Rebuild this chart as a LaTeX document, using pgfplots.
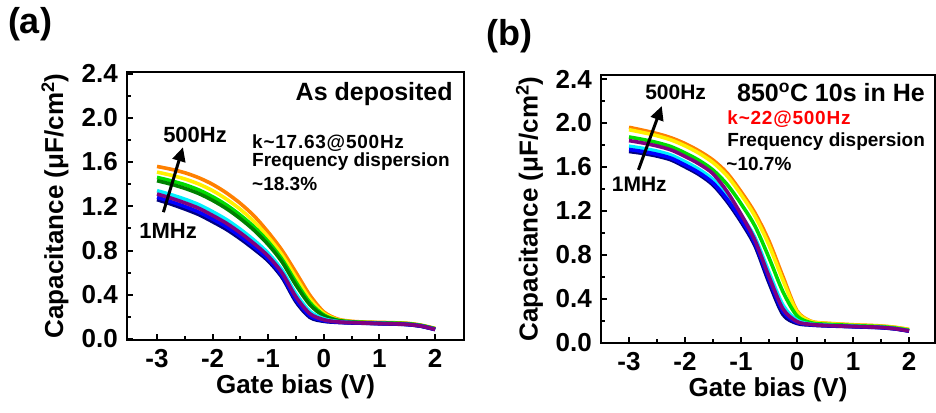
\documentclass[border=0pt]{standalone}
\usepackage{pgfplots}
\pgfplotsset{compat=1.18}
\usepackage{pgfplotstable}
\usetikzlibrary{arrows.meta}
\usepackage{fontspec}
\setmainfont{Liberation Sans}

\definecolor{cOr}{RGB}{255,128,0}
\definecolor{cYe}{RGB}{255,240,0}
\definecolor{cLi}{RGB}{0,220,0}
\definecolor{cGr}{RGB}{0,128,0}
\definecolor{cCy}{RGB}{0,240,255}
\definecolor{cBl}{RGB}{0,0,255}
\definecolor{cNv}{RGB}{0,0,128}
\definecolor{cPu}{RGB}{128,0,128}

% panel (a): as deposited
\pgfplotstableread{
x     or    ye    li    gr    cy    bl    nv    pu
-3    1.560 1.509 1.461 1.431 1.341 1.281 1.260 1.311
-2.75 1.535 1.481 1.431 1.400 1.305 1.242 1.220 1.274
-2.5  1.503 1.447 1.395 1.362 1.264 1.198 1.175 1.231
-2.25 1.458 1.401 1.348 1.315 1.215 1.148 1.125 1.182
-2    1.398 1.341 1.286 1.253 1.151 1.084 1.060 1.117
-1.75 1.320 1.264 1.211 1.178 1.079 1.013 0.990 1.046
-1.5  1.225 1.171 1.119 1.087 0.991 0.927 0.905 0.959
-1.25 1.110 1.059 1.011 0.981 0.891 0.831 0.810 0.861
-1    0.965 0.921 0.879 0.853 0.775 0.723 0.705 0.749
-0.75 0.800 0.758 0.719 0.695 0.621 0.572 0.555 0.597
-0.5  0.600 0.555 0.513 0.486 0.407 0.354 0.335 0.380
-0.25 0.395 0.361 0.329 0.309 0.249 0.209 0.195 0.229
0     0.245 0.231 0.217 0.208 0.183 0.166 0.160 0.174
0.25  0.180 0.175 0.170 0.167 0.158 0.152 0.150 0.155
0.5   0.160 0.157 0.155 0.154 0.149 0.146 0.145 0.148
0.75  0.153 0.151 0.149 0.148 0.145 0.143 0.142 0.144
1     0.150 0.148 0.146 0.145 0.141 0.139 0.138 0.140
1.25  0.147 0.145 0.143 0.142 0.138 0.136 0.135 0.137
1.5   0.142 0.140 0.138 0.137 0.133 0.131 0.130 0.132
1.75  0.125 0.123 0.122 0.121 0.118 0.116 0.115 0.117
2     0.095 0.093 0.092 0.091 0.088 0.086 0.085 0.087
}\dataA

% panel (b): 850C 10s in He
\pgfplotstableread{
x     or    ye    gr    cy    bl    nv    pu
-3    1.960 1.938 1.872 1.788 1.758 1.740 1.839
-2.75 1.933 1.912 1.849 1.768 1.739 1.722 1.817
-2.5  1.903 1.883 1.821 1.743 1.714 1.698 1.790
-2.25 1.865 1.845 1.784 1.707 1.679 1.663 1.754
-2    1.812 1.791 1.727 1.647 1.617 1.600 1.695
-1.75 1.745 1.724 1.659 1.577 1.547 1.530 1.627
-1.5  1.662 1.639 1.571 1.485 1.453 1.435 1.537
-1.25 1.545 1.519 1.441 1.342 1.306 1.285 1.376
-1    1.375 1.348 1.265 1.161 1.122 1.100 1.169
-0.75 1.180 1.150 1.060 0.955 0.904 0.880 0.931
-0.5  0.925 0.887 0.773 0.640 0.575 0.545 0.602
-0.25 0.600 0.566 0.462 0.341 0.283 0.255 0.307
0     0.290 0.279 0.244 0.204 0.184 0.175 0.192
0.25  0.195 0.192 0.181 0.169 0.163 0.160 0.166
0.5   0.178 0.176 0.168 0.159 0.155 0.153 0.157
0.75  0.170 0.168 0.162 0.154 0.151 0.149 0.152
1     0.163 0.161 0.156 0.149 0.146 0.145 0.148
1.25  0.158 0.156 0.151 0.145 0.142 0.141 0.144
1.5   0.152 0.150 0.146 0.140 0.137 0.136 0.139
1.75  0.140 0.139 0.134 0.128 0.126 0.125 0.127
2     0.120 0.119 0.114 0.108 0.106 0.105 0.107
}\dataB

\tikzset{
  note/.style={anchor=base west,inner sep=0pt,font=\bfseries\fontsize{19}{19}\selectfont},
  big/.style={inner sep=0pt,font=\bfseries\fontsize{25}{25}\selectfont},
  freq/.style={anchor=base west,inner sep=0pt,font=\bfseries\fontsize{#1}{#1}\selectfont},
}

\pgfplotsset{
  cvstyle/.style={
    scale only axis,
    anchor=south west,
    axis line style={line width=2.6pt},
    tick align=inside,
    tick pos=left,
    major tick length=6pt,
    minor tick length=3.5pt,
    every tick/.style={black,line width=2pt},
    xtick={-3,-2,-1,0,1,2},
    ytick={0,0.4,0.8,1.2,1.6,2.0,2.4},
    minor x tick num=1,
    minor y tick num=1,
    /pgf/number format/assume math mode=true,
    y tick label style={/pgf/number format/fixed,/pgf/number format/fixed zerofill,/pgf/number format/precision=1},
    tick label style={font=\bfseries\fontsize{26}{26}\selectfont,inner sep=0pt},
    xticklabel style={yshift=-9pt},
    yticklabel style={xshift=-9pt},
    label style={font=\bfseries\fontsize{26}{26}\selectfont},
    xlabel={Gate bias (V)},
    ylabel={Capacitance (μF/cm\textsuperscript{2})},
    xlabel style={at={(axis description cs:0.5,-0.175)},anchor=center},
    ylabel style={at={(axis description cs:-0.214,0.5)},anchor=center},
    every axis plot/.append style={line width=3.6pt,smooth,no markers},
  },
}

\begin{document}
\begin{tikzpicture}
\useasboundingbox (0,0) rectangle (936pt,412pt);

\node[font=\bfseries\fontsize{36}{36}\selectfont] at (30pt,388pt) {(a)};
\node[font=\bfseries\fontsize{36}{36}\selectfont] at (509pt,376pt) {(b)};

\begin{axis}[cvstyle,
    at={(127pt,72pt)}, width=337pt, height=268pt,
    xmin=-3.54, xmax=2.52, ymin=-0.009, ymax=2.414]
  \addplot[cOr] table[x=x,y=or] {\dataA};
  \addplot[cYe] table[x=x,y=ye] {\dataA};
  \addplot[cLi] table[x=x,y=li] {\dataA};
  \addplot[cGr] table[x=x,y=gr] {\dataA};
  \addplot[cCy] table[x=x,y=cy] {\dataA};
  \addplot[cNv] table[x=x,y=nv] {\dataA};
  \addplot[cBl] table[x=x,y=bl] {\dataA};
  \addplot[cPu] table[x=x,y=pu] {\dataA};

  \node[big,anchor=base east] at (rel axis cs:0.967,0.895) {As deposited};
  \node[note] at (rel axis cs:0.371,0.713)
    {\addfontfeature{LetterSpace=4}k\textasciitilde17.63@500Hz};
  \node[note] at (rel axis cs:0.371,0.648) {Frequency dispersion};
  \node[note] at (rel axis cs:0.371,0.558) {\textasciitilde18.3\%};
  \node[freq=22] at (rel axis cs:0.107,0.737) {500Hz};
  \node[freq=22] at (rel axis cs:0.036,0.380) {1MHz};
  \draw[line width=3pt,-{Triangle[length=14pt,width=13pt]}]
    (rel axis cs:0.108,0.477) -- (rel axis cs:0.166,0.719);
\end{axis}

\begin{axis}[cvstyle,
    at={(601pt,69pt)}, width=334pt, height=268pt,
    xmin=-3.5, xmax=2.464, ymin=-0.003, ymax=2.436]
  \addplot[cOr] table[x=x,y=or] {\dataB};
  \addplot[cYe] table[x=x,y=ye] {\dataB};
  \addplot[cLi] table[x=x,y=gr] {\dataB};
  \addplot[cCy] table[x=x,y=cy] {\dataB};
  \addplot[cNv] table[x=x,y=nv] {\dataB};
  \addplot[cBl] table[x=x,y=bl] {\dataB};
  \addplot[cPu] table[x=x,y=pu] {\dataB};

  \node[big,anchor=base east] at (rel axis cs:0.970,0.900)
    {850\textsuperscript{o}C 10s in He};
  \node[note,text=red] at (rel axis cs:0.378,0.817)
    {\addfontfeature{LetterSpace=4}k\textasciitilde22@500Hz};
  \node[note] at (rel axis cs:0.378,0.732) {Frequency dispersion};
  \node[note] at (rel axis cs:0.375,0.643) {\textasciitilde10.7\%};
  \node[freq=21] at (rel axis cs:0.132,0.907) {500Hz};
  \node[freq=21] at (rel axis cs:0.032,0.565) {1MHz};
  \draw[line width=3pt,-{Triangle[length=14pt,width=13pt]}]
    (rel axis cs:0.112,0.646) -- (rel axis cs:0.182,0.884);
\end{axis}
\end{tikzpicture}
\end{document}
